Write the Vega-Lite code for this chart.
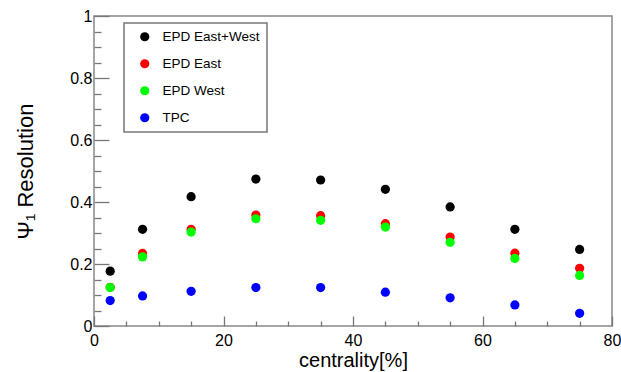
{
  "$schema": "https://vega.github.io/schema/vega-lite/v6.json",
  "width": 518,
  "height": 310,
  "autosize": "none",
  "padding": {"left": 94, "top": 16, "right": 9, "bottom": 46},
  "background": "white",
  "config": {
    "font": "Liberation Sans",
    "view": {"stroke": "#888888", "strokeWidth": 1.5},
    "axis": {
      "grid": false,
      "domain": false,
      "labelFont": "Liberation Sans",
      "titleFont": "Liberation Sans",
      "labelColor": "#000000",
      "titleColor": "#000000",
      "tickColor": "#777777",
      "tickWidth": 1.3,
      "labelFontSize": 16,
      "titleFontWeight": "normal",
      "labelOverlap": false,
      "labelFlush": false
    },
    "legend": {"strokeWidth": 1.5}
  },
  "data": {
    "values": [
      {"method": "EPD East+West", "centrality": 2.5, "resolution": 0.177},
      {"method": "EPD East+West", "centrality": 7.5, "resolution": 0.312},
      {"method": "EPD East+West", "centrality": 15, "resolution": 0.417},
      {"method": "EPD East+West", "centrality": 25, "resolution": 0.474},
      {"method": "EPD East+West", "centrality": 35, "resolution": 0.471},
      {"method": "EPD East+West", "centrality": 45, "resolution": 0.441},
      {"method": "EPD East+West", "centrality": 55, "resolution": 0.384},
      {"method": "EPD East+West", "centrality": 65, "resolution": 0.312},
      {"method": "EPD East+West", "centrality": 75, "resolution": 0.247},
      {"method": "EPD East", "centrality": 2.5, "resolution": 0.125},
      {"method": "EPD East", "centrality": 7.5, "resolution": 0.234},
      {"method": "EPD East", "centrality": 15, "resolution": 0.312},
      {"method": "EPD East", "centrality": 25, "resolution": 0.358},
      {"method": "EPD East", "centrality": 35, "resolution": 0.356},
      {"method": "EPD East", "centrality": 45, "resolution": 0.330},
      {"method": "EPD East", "centrality": 55, "resolution": 0.287},
      {"method": "EPD East", "centrality": 65, "resolution": 0.235},
      {"method": "EPD East", "centrality": 75, "resolution": 0.186},
      {"method": "EPD West", "centrality": 2.5, "resolution": 0.124},
      {"method": "EPD West", "centrality": 7.5, "resolution": 0.223},
      {"method": "EPD West", "centrality": 15, "resolution": 0.303},
      {"method": "EPD West", "centrality": 25, "resolution": 0.346},
      {"method": "EPD West", "centrality": 35, "resolution": 0.341},
      {"method": "EPD West", "centrality": 45, "resolution": 0.319},
      {"method": "EPD West", "centrality": 55, "resolution": 0.270},
      {"method": "EPD West", "centrality": 65, "resolution": 0.218},
      {"method": "EPD West", "centrality": 75, "resolution": 0.163},
      {"method": "TPC", "centrality": 2.5, "resolution": 0.082},
      {"method": "TPC", "centrality": 7.5, "resolution": 0.097},
      {"method": "TPC", "centrality": 15, "resolution": 0.112},
      {"method": "TPC", "centrality": 25, "resolution": 0.124},
      {"method": "TPC", "centrality": 35, "resolution": 0.124},
      {"method": "TPC", "centrality": 45, "resolution": 0.109},
      {"method": "TPC", "centrality": 55, "resolution": 0.091},
      {"method": "TPC", "centrality": 65, "resolution": 0.068},
      {"method": "TPC", "centrality": 75, "resolution": 0.041}
    ]
  },
  "layer": [
    {
      "mark": {"type": "point", "filled": true, "size": 85, "opacity": 1, "strokeWidth": 0},
      "encoding": {
        "x": {
          "field": "centrality",
          "type": "quantitative",
          "scale": {"domain": [0, 80], "nice": false, "zero": false},
          "axis": {
            "orient": "bottom",
            "values": [0, 20, 40, 60, 80],
            "tickSize": -10,
            "labelPadding": 16,
            "title": "centrality[%]",
            "titleFontSize": 20,
            "titleBaseline": "alphabetic",
            "titleY": 40
          }
        },
        "y": {
          "field": "resolution",
          "type": "quantitative",
          "scale": {"domain": [0, 1], "nice": false, "zero": true},
          "axis": {
            "orient": "left",
            "values": [0, 0.2, 0.4, 0.6, 0.8, 1],
            "tickSize": -15,
            "labelExpr": "format(datum.value, '~g')",
            "labelPadding": 17,
            "title": "Ψ₁ Resolution",
            "titleFontSize": 22,
            "titleAngle": -90,
            "titleBaseline": "alphabetic",
            "titleAlign": "center",
            "titleX": -62,
            "titleY": 155
          }
        },
        "color": {
          "field": "method",
          "type": "nominal",
          "scale": {
            "domain": ["EPD East+West", "EPD East", "EPD West", "TPC"],
            "range": ["#000000", "#ff0000", "#00ff00", "#0000ff"]
          },
          "legend": {
            "orient": "none",
            "legendX": 30,
            "legendY": 7,
            "title": null,
            "strokeColor": "#777777",
            "fillColor": "#ffffff",
            "padding": 7,
            "rowPadding": 12,
            "labelFontSize": 13.5,
            "labelFont": "Liberation Sans",
            "labelColor": "#000000",
            "symbolType": "circle",
            "symbolSize": 85,
            "symbolStrokeWidth": 0,
            "symbolOffset": 7,
            "labelOffset": 11
          }
        }
      }
    },
    {
      "mark": {"type": "point", "opacity": 0},
      "encoding": {
        "x": {
          "field": "centrality",
          "type": "quantitative",
          "axis": {
            "orient": "bottom",
            "values": [5, 10, 15, 25, 30, 35, 45, 50, 55, 65, 70, 75],
            "tickSize": -5,
            "labels": false,
            "title": null
          }
        },
        "y": {
          "field": "resolution",
          "type": "quantitative",
          "axis": {
            "orient": "left",
            "values": [0.05, 0.1, 0.15, 0.25, 0.3, 0.35, 0.45, 0.5, 0.55, 0.65, 0.7, 0.75, 0.85, 0.9, 0.95],
            "tickSize": -7,
            "labels": false,
            "title": null
          }
        }
      }
    }
  ],
  "resolve": {"axis": {"x": "independent", "y": "independent"}}
}
